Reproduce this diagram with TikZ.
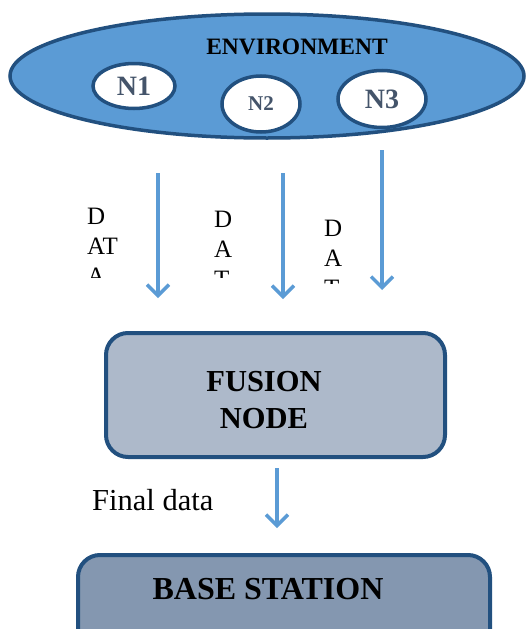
\documentclass[tikz,border=0pt]{standalone}
\usepackage{fontspec}
\setmainfont{Liberation Serif}
\usetikzlibrary{shapes.geometric,arrows.meta}
\definecolor{envfill}{HTML}{5B9BD5}
\definecolor{darkedge}{HTML}{22507F}
\definecolor{fusefill}{HTML}{ADB9CA}
\definecolor{basefill}{HTML}{8497B0}
\definecolor{ntext}{HTML}{44546A}
\definecolor{arrowblue}{HTML}{5B9BD5}
\tikzset{
  envshape/.style={ellipse, draw=darkedge, fill=envfill, line width=3.5pt, inner sep=0pt},
  sensor/.style={ellipse, draw=darkedge, fill=white, line width=3.5pt, inner sep=0pt, text=ntext, font=\bfseries},
  boxshape/.style={rectangle, rounded corners=22pt, draw=darkedge, line width=4pt, inner sep=0pt},
  flow/.style={draw=arrowblue, line width=3.5pt, -{Straight Barb[length=11pt,width=22pt]}},
  datatext/.style={anchor=north west, inner sep=0pt, align=left, font=\fontsize{25}{30}\selectfont},
}
\begin{document}
\begin{tikzpicture}[x=1pt,y=-1pt]
\useasboundingbox (0,0) rectangle (528,629);
% environment
\node[envshape, minimum width=514pt, minimum height=124pt] (env) at (267,76) {};
\node[font=\fontsize{23.5}{26}\selectfont\bfseries, inner sep=0pt] (envlabel) at (297,47) {ENVIRONMENT};
\node[sensor, minimum width=82pt, minimum height=45pt, font=\fontsize{28}{30}\selectfont\bfseries] (n1) at (134,86) {N1};
\node[sensor, minimum width=78pt, minimum height=56pt, font=\fontsize{21}{24}\selectfont\bfseries] (n2) at (261,104) {N2};
\node[sensor, minimum width=88pt, minimum height=57pt, font=\fontsize{28}{30}\selectfont\bfseries] (n3) at (382,99) {N3};
% arrow endpoints
\coordinate (a1s) at (158,173); \coordinate (a1e) at (158,298);
\coordinate (a2s) at (283,173); \coordinate (a2e) at (283,299);
\coordinate (a3s) at (382,150); \coordinate (a3e) at (382,290);
\draw[flow] (a1s) -- (a1e);
\draw[flow] (a2s) -- (a2e);
\draw[flow] (a3s) -- (a3e);
% DATA labels (clipped)
\begin{scope}
\clip (80,200) rectangle (150,277);
\node[datatext] (d1) at (87,208) {D\\AT\\A};
\end{scope}
\begin{scope}
\clip (205,200) rectangle (260,277);
\node[datatext] (d2) at (214,211) {D\\A\\T};
\end{scope}
\begin{scope}
\clip (315,200) rectangle (370,283);
\node[datatext] (d3) at (324,220) {D\\A\\T};
\end{scope}
% fusion node
\node[boxshape, fill=fusefill, minimum width=339pt, minimum height=124pt] (fusion) at (275.5,395) {};
\node[font=\fontsize{30.5}{37}\selectfont\bfseries, align=center, inner sep=0pt] (fusionlabel) at (264,400) {FUSION\\NODE};
% final data
\coordinate (f1s) at (277,468); \coordinate (f1e) at (277,528);
\draw[flow] (f1s) -- (f1e);
\node[anchor=base west, inner sep=0pt, font=\fontsize{30.5}{34}\selectfont] (finaldata) at (92,510) {Final data};
% base station
\node[boxshape, fill=basefill, minimum width=412pt, minimum height=124pt, anchor=north west] (base) at (76,553) {};
\node[font=\fontsize{32}{34}\selectfont\bfseries, inner sep=0pt] (baselabel) at (268,589) {BASE STATION};
\end{tikzpicture}
\end{document}
